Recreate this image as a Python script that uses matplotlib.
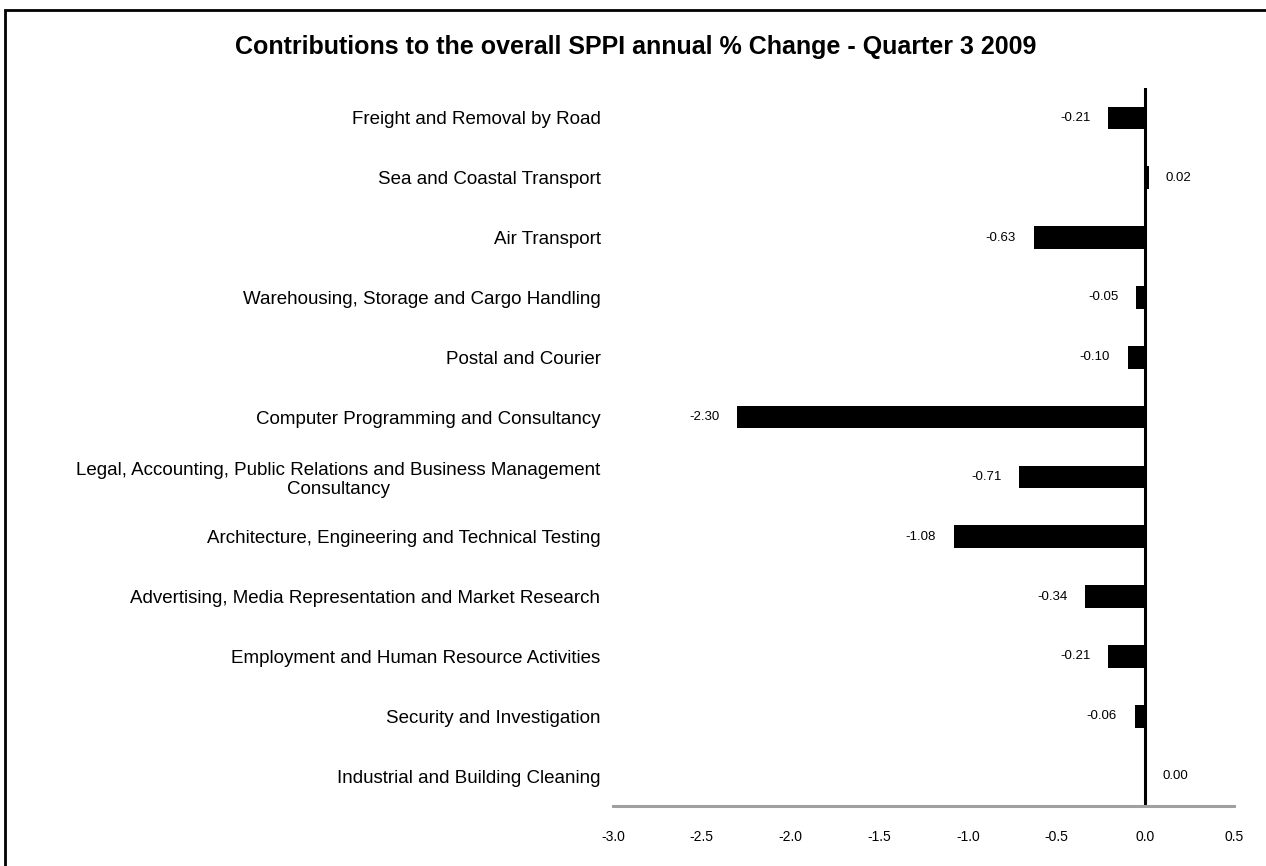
import matplotlib.pyplot as plt
from matplotlib.patches import Rectangle

plt.rcParams["font.family"] = ["Liberation Sans", "DejaVu Sans"]

# Categories from top to bottom, as in the chart
categories = [
    "Freight and Removal by Road",
    "Sea and Coastal Transport",
    "Air Transport",
    "Warehousing, Storage and Cargo Handling",
    "Postal and Courier",
    "Computer Programming and Consultancy",
    "Legal, Accounting, Public Relations and Business Management\nConsultancy",
    "Architecture, Engineering and Technical Testing",
    "Advertising, Media Representation and Market Research",
    "Employment and Human Resource Activities",
    "Security and Investigation",
    "Industrial and Building Cleaning",
]
contributions = [-0.21, 0.02, -0.63, -0.05, -0.10, -2.30, -0.71, -1.08, -0.34, -0.21, -0.06, 0.00]
x_ticks = [-3.0, -2.5, -2.0, -1.5, -1.0, -0.5, 0.0, 0.5]

fig = plt.figure(figsize=(12.66, 8.66), dpi=100)

# outer frame (runs off the right and bottom edges, like the original)
fig.patches.append(Rectangle((5 / 1266, -0.01), 1.02, 1 - 10 / 866 + 0.01,
                             transform=fig.transFigure, fill=False,
                             edgecolor="black", linewidth=2))

ax = fig.add_axes([613 / 1266, 1 - 806 / 866, 621 / 1266, 718 / 866])

y = list(range(len(categories)))
ax.barh(y, contributions, height=0.38, color="black")

for yi, v in zip(y, contributions):
    if v < 0:
        ax.text(v - 0.1, yi, f"{v:.2f}", ha="right", va="center", fontsize=9.5)
    else:
        ax.text(v + 0.095, yi, f"{v:.2f}", ha="left", va="center", fontsize=9.5)

ax.axvline(0, color="black", linewidth=2.2)

ax.set_xlim(-3.0, 0.5)
ax.set_ylim(len(categories) - 0.5, -0.5)
ax.set_xticks(x_ticks)
ax.set_xticklabels([f"{t:.1f}" for t in x_ticks], fontsize=10)
ax.tick_params(axis="x", length=0, pad=17)

ax.set_yticks(y)
ax.set_yticklabels(categories, fontsize=13.5, linespacing=1.15,
                   multialignment="center")
ax.tick_params(axis="y", length=0, pad=9)

for side in ["top", "right", "left"]:
    ax.spines[side].set_visible(False)
ax.spines["bottom"].set_color("#a0a0a0")
ax.spines["bottom"].set_linewidth(2.2)

fig.text(636 / 1266, 1 - 47 / 866,
         "Contributions to the overall SPPI annual % Change - Quarter 3 2009",
         ha="center", va="center", fontsize=18, fontweight="bold")

fig.savefig("out.png", dpi=100)
